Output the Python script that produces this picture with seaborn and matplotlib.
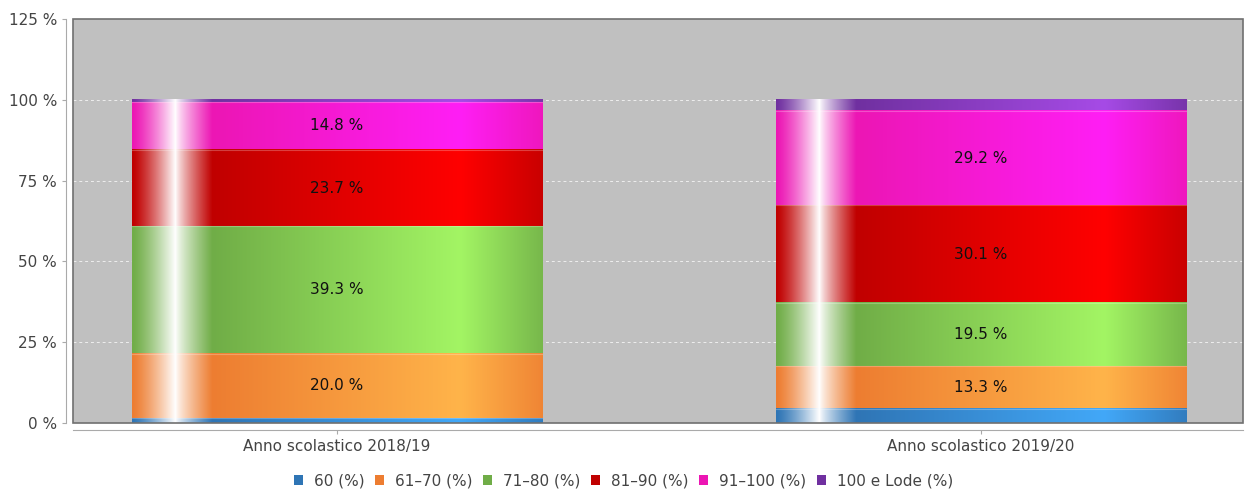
import numpy as np
import seaborn as sns
import matplotlib.pyplot as plt
from matplotlib.colors import to_rgb
from matplotlib.patches import Patch, Rectangle

# data
years = ["Anno scolastico 2018/19", "Anno scolastico 2019/20"]
series = ["60 (%)", "61–70 (%)", "71–80 (%)", "81–90 (%)", "91–100 (%)", "100 e Lode (%)"]
v_60 = [1.5, 4.4]
v_61_70 = [20.0, 13.3]
v_71_80 = [39.3, 19.5]
v_81_90 = [23.7, 30.1]
v_91_100 = [14.8, 29.2]
v_lode = [0.7, 3.5]
y_ticks = [0, 25, 50, 75, 100, 125]

dark = ["#2F75B5", "#ED7D31", "#70AD47", "#C00000", "#EC16B4", "#7030A0"]
bright = ["#42A8F8", "#FFB44A", "#A3F564", "#FF0000", "#FF1EF5", "#A64BE6"]


def gradient(c_dark, c_bright, n=400):
    # jfreechart-like bar shading: white highlight on the left, dark->bright->dark
    d = np.array(to_rgb(c_dark))
    b = np.array(to_rgb(c_bright))
    w = np.ones(3)
    out = np.zeros((1, n, 3))
    for k, t in enumerate(np.linspace(0, 1, n)):
        if t < 0.105:
            c = d + (w - d) * (t / 0.105) ** 1.3
        elif t < 0.195:
            c = w + (d - w) * ((t - 0.105) / 0.09) ** 0.8
        elif t < 0.8:
            c = d + (b - d) * ((t - 0.195) / 0.605)
        else:
            c = b + (d - b) * ((t - 0.8) / 0.2) * 0.85
        out[0, k] = c
    return out


stack = np.array([v_60, v_61_70, v_71_80, v_81_90, v_91_100, v_lode])
cum = np.cumsum(stack, axis=0)

fig = plt.figure(figsize=(12.47, 4.93), dpi=100)
ax = fig.add_axes([0.0585, 0.142, 0.9383, 0.8195])
ax.set_facecolor("#C0C0C0")

for i in reversed(range(len(stack))):
    n0 = len(ax.patches)
    sns.barplot(x=years, y=cum[i], color=dark[i], saturation=1, width=0.637,
                errorbar=None, ax=ax)
    grad = gradient(dark[i], bright[i])
    for j, p in enumerate(ax.patches[n0:]):
        lo = cum[i - 1][j] if i > 0 else 0
        x0, w = p.get_x(), p.get_width()
        ax.imshow(grad, extent=(x0, x0 + w, lo, cum[i][j]), aspect="auto",
                  interpolation="bilinear", zorder=2)
        if i > 0:
            ax.plot([x0, x0 + w], [lo, lo], color="white", alpha=0.25, lw=0.8, zorder=3)
        if stack[i][j] >= 5:
            ax.text(j, lo + stack[i][j] / 2, f"{stack[i][j]:.1f} %", ha="center",
                    va="center", fontsize=11, color="#111111", zorder=4)

ax.set_xlim(-0.41, 1.407)
ax.set_ylim(0, 125)
ax.set_yticks(y_ticks)
ax.set_yticklabels([f"{t} %" for t in y_ticks])
ax.set_xlabel("")
ax.set_ylabel("")
ax.set_axisbelow(True)
for t in y_ticks[1:-1]:
    ax.axhline(t, color="#EEEEEE", lw=0.7, ls=(0, (3, 3)), zorder=0.5)

for s in ["top", "right"]:
    ax.spines[s].set_visible(False)
for s in ["left", "bottom"]:
    ax.spines[s].set_position(("outward", 5))
    ax.spines[s].set_color("#AAAAAA")
ax.tick_params(length=3, color="#AAAAAA", labelcolor="#444444", labelsize=11)
ax.add_patch(Rectangle((0, 0), 1, 1, transform=ax.transAxes, fill=False,
                       edgecolor="#707070", lw=1.2, clip_on=False, zorder=5))

handles = [Patch(facecolor=c) for c in dark]
fig.legend(handles, series, loc="center", bbox_to_anchor=(0.5, 1 - 481 / 493),
           ncol=6, frameon=False, handlelength=0.6, handleheight=0.6,
           handletextpad=0.75, columnspacing=0.65, fontsize=11, labelcolor="#444444")

fig.savefig("out.png", dpi=100)
